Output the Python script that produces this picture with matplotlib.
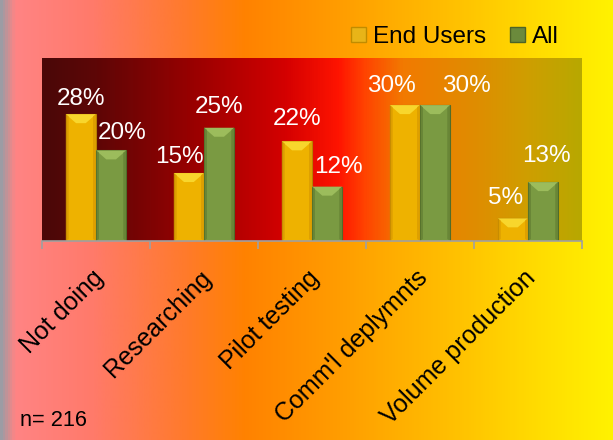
import numpy as np
import matplotlib.pyplot as plt
import matplotlib.transforms as mtransforms
from matplotlib.colors import LinearSegmentedColormap
from matplotlib.patches import Polygon, Patch

plt.rcParams['font.family'] = ['Liberation Sans', 'DejaVu Sans']

categories = ['Not doing', 'Researching', 'Pilot testing', "Comm'l deplymnts", 'Volume production']
end_users = [28, 15, 22, 30, 5]
all_resp = [20, 25, 12, 30, 13]
series_names = ['End Users', 'All']
sample_note = 'n= 216'

# label nudges in pixels: (sideways shift, gap above bar top)
eu_nudge = [(0, 9), (-9, 10), (0, 16), (-13, 13), (-7, 14)]
all_nudge = [(11, 11), (0, 15), (11, 14), (31, 13), (3, 20)]

W, H = 613, 440
fig = plt.figure(figsize=(W / 100, H / 100), dpi=100)

# page background: grey edge, pink, orange, yellow
bg = fig.add_axes([0, 0, 1, 1], zorder=0)
bg_cmap = LinearSegmentedColormap.from_list('page', [
    (0.0, '#9c9ca4'), (0.022, '#ff8484'), (0.15, '#ff7a6a'), (0.3, '#ff7a2c'),
    (0.4, '#ff8200'), (0.55, '#ff9c00'), (0.72, '#ffbc00'), (0.88, '#ffdc00'),
    (1.0, '#fff200')])
bg.imshow(np.linspace(0, 1, 600)[None, :], cmap=bg_cmap, aspect='auto', extent=[0, 1, 0, 1])
bg.axis('off')

ax = fig.add_axes([42 / W, 199 / H, 540 / W, 183 / H], zorder=1)
ymax = 40.4
ax.set_xlim(-0.5, 4.5)
ax.set_ylim(0, ymax)

# plot area: maroon -> red -> orange -> olive
plot_cmap = LinearSegmentedColormap.from_list('plot', [
    (0.0, '#4a0808'), (0.1, '#5e0606'), (0.3, '#a00000'), (0.45, '#d40000'),
    (0.55, '#ff1400'), (0.6, '#ff4400'), (0.67, '#f27a00'), (0.8, '#e08c00'),
    (0.9, '#cf9e00'), (1.0, '#b8a800')])
ax.imshow(np.linspace(0, 1, 600)[None, :], cmap=plot_cmap, aspect='auto',
          extent=[-0.5, 4.5, 0, ymax], zorder=0)

x = np.arange(len(categories))
w = 0.28
px_x = 5 / 540
px_y = ymax / 183


def bevel_bars(xs, vals, body, top, side, edge):
    ax.bar(xs, vals, w, color=body, edgecolor=edge, linewidth=0.8, zorder=2)
    for xc, v in zip(xs, vals):
        x0, x1 = xc - w / 2, xc + w / 2
        d = 9 * px_y
        ins = 0.34 * w
        ax.add_patch(Polygon([(x0, v), (x1, v), (x1 - ins, v - d), (x0 + ins, v - d)],
                             closed=True, facecolor=top, edgecolor='none', zorder=3))
        s = 3 * px_x
        ax.add_patch(Polygon([(x0, 0), (x0 + s, 2 * px_y), (x0 + s, v - 2 * px_y), (x0, v)],
                             closed=True, facecolor=side, edgecolor='none', zorder=3, alpha=0.6))
        ax.add_patch(Polygon([(x1, 0), (x1 - s, 2 * px_y), (x1 - s, v - 2 * px_y), (x1, v)],
                             closed=True, facecolor=side, edgecolor='none', zorder=3, alpha=0.6))


bevel_bars(x - w / 2, end_users, '#eeb200', '#f8d62c', '#d49400', '#b88200')
bevel_bars(x + w / 2, all_resp, '#7a9a42', '#9cbc5c', '#5e7a30', '#4e6a28')

for xs, vals, nudges in [(x - w / 2, end_users, eu_nudge), (x + w / 2, all_resp, all_nudge)]:
    for xc, v, (dx, dy) in zip(xs, vals, nudges):
        ax.annotate(f'{v}%', (xc, v), xytext=(dx * 0.72, dy * 0.72), textcoords='offset points',
                    ha='center', va='baseline', color='white', fontsize=17.5, zorder=4)

for sp in ['left', 'top', 'right']:
    ax.spines[sp].set_visible(False)
ax.spines['bottom'].set_color('#a0a0a0')
ax.spines['bottom'].set_linewidth(1.2)
ax.spines['bottom'].set_zorder(5)
ax.set_yticks([])

ax.set_xticks(np.arange(-0.5, 5, 1))
ax.set_xticklabels([])
ax.tick_params(axis='x', which='major', length=6, width=1.2, color='#a0a0a0')
ax.set_xticks(x, minor=True)
ax.set_xticklabels(categories, minor=True, rotation=45, ha='right', va='top',
                   rotation_mode='anchor', fontsize=18)
ax.tick_params(axis='x', which='minor', length=0, pad=18)
shift = mtransforms.ScaledTranslation(-5 / 100, 0, fig.dpi_scale_trans)
for lbl in ax.get_xticklabels(minor=True):
    lbl.set_transform(lbl.get_transform() + shift)

handles = [Patch(facecolor='#e8b418', edgecolor='#c08c00'),
           Patch(facecolor='#6b8a3c', edgecolor='#4c6428')]
fig.legend(handles, series_names, loc='center left', bbox_to_anchor=(351 / W, 1 - 37 / H),
           ncol=2, frameon=False, fontsize=17.5, borderpad=0, borderaxespad=0,
           handlelength=0.6, handleheight=0.6, handletextpad=0.3, columnspacing=1.0)

fig.text(20 / W, 14 / H, sample_note, fontsize=15.7, va='baseline')

fig.savefig('out.png', dpi=100)
